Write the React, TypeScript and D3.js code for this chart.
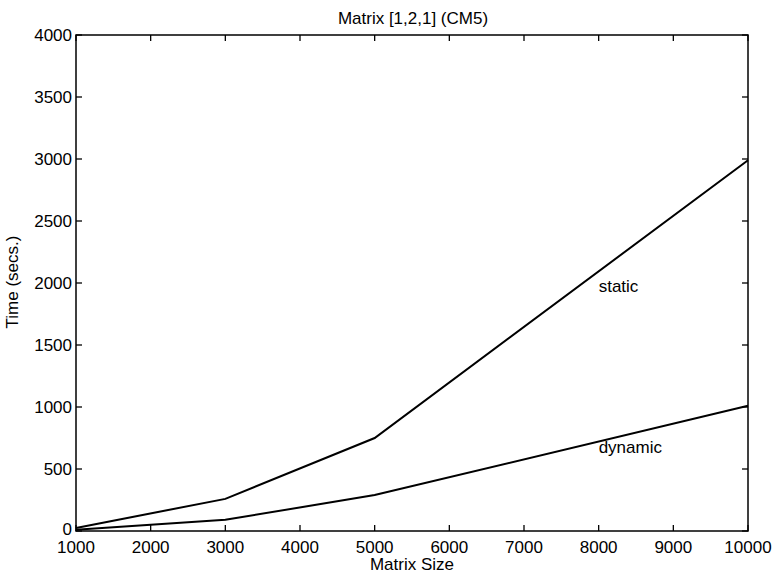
import React, { useEffect, useRef } from "react";
import * as d3 from "d3";

const matrixSizes = [1000, 3000, 5000, 10000];
const staticTimes = [25, 259, 750, 2990];
const dynamicTimes = [10, 90, 290, 1010];
const xTicks = [1000, 2000, 3000, 4000, 5000, 6000, 7000, 8000, 9000, 10000];
const yTicks = [0, 500, 1000, 1500, 2000, 2500, 3000, 3500, 4000];
const seriesLabels = [
  { text: "static", x: 8000, y: 1930 },
  { text: "dynamic", x: 8000, y: 630 },
];

export default function App() {
  const svgRef = useRef<SVGSVGElement>(null);

  useEffect(() => {
    const W = 774;
    const H = 577;
    const margin = { top: 35, right: 26, bottom: 46, left: 76 };
    const width = W - margin.left - margin.right;
    const height = H - margin.top - margin.bottom;
    const font = "Liberation Sans, Arial, sans-serif";

    const root = d3.select(svgRef.current);
    root.selectAll("*").remove();
    root.attr("width", W).attr("height", H);

    root.append("rect").attr("width", W).attr("height", H).attr("fill", "#fff");

    const svg = root
      .append("g")
      .attr("transform", `translate(${margin.left},${margin.top})`);

    const x = d3.scaleLinear().domain([1000, 10000]).range([0, width]);
    const y = d3.scaleLinear().domain([0, 4000]).range([height, 0]);

    const tickLen = 6;

    // box
    svg
      .append("rect")
      .attr("width", width)
      .attr("height", height)
      .attr("fill", "none")
      .attr("stroke", "#000")
      .attr("stroke-width", 1.5);

    // inward ticks, all four sides
    const tickG = svg.append("g").attr("stroke", "#000").attr("stroke-width", 1.3);
    xTicks.forEach((t) => {
      tickG.append("line").attr("x1", x(t)).attr("x2", x(t)).attr("y1", height).attr("y2", height - tickLen);
      tickG.append("line").attr("x1", x(t)).attr("x2", x(t)).attr("y1", 0).attr("y2", tickLen);
    });
    yTicks.forEach((t) => {
      tickG.append("line").attr("x1", 0).attr("x2", tickLen).attr("y1", y(t)).attr("y2", y(t));
      tickG.append("line").attr("x1", width).attr("x2", width - tickLen).attr("y1", y(t)).attr("y2", y(t));
    });

    // tick labels
    svg
      .append("g")
      .selectAll("text")
      .data(xTicks)
      .enter()
      .append("text")
      .attr("x", (d) => x(d))
      .attr("y", height + 22)
      .attr("text-anchor", "middle")
      .attr("font-family", font)
      .attr("font-size", 17)
      .text((d) => d);

    svg
      .append("g")
      .selectAll("text")
      .data(yTicks)
      .enter()
      .append("text")
      .attr("x", -4)
      .attr("y", (d) => y(d) + (d === 0 ? 4 : 6))
      .attr("text-anchor", "end")
      .attr("font-family", font)
      .attr("font-size", 17)
      .text((d) => d);

    // lines
    const line = d3
      .line<number>()
      .x((_, i) => x(matrixSizes[i]))
      .y((d) => y(d));

    [staticTimes, dynamicTimes].forEach((s) => {
      svg
        .append("path")
        .datum(s)
        .attr("d", line)
        .attr("fill", "none")
        .attr("stroke", "#000")
        .attr("stroke-width", 2);
    });

    seriesLabels.forEach((l) => {
      svg
        .append("text")
        .attr("x", x(l.x))
        .attr("y", y(l.y))
        .attr("font-family", font)
        .attr("font-size", 17)
        .text(l.text);
    });

    // title & axis labels
    svg
      .append("text")
      .attr("x", width / 2 + 1)
      .attr("y", -11)
      .attr("text-anchor", "middle")
      .attr("font-family", font)
      .attr("font-size", 17)
      .text("Matrix [1,2,1] (CM5)");

    svg
      .append("text")
      .attr("x", width / 2)
      .attr("y", height + 39)
      .attr("text-anchor", "middle")
      .attr("font-family", font)
      .attr("font-size", 17)
      .text("Matrix Size");

    svg
      .append("text")
      .attr("transform", `translate(${-58},${height / 2 - 1}) rotate(-90)`)
      .attr("text-anchor", "middle")
      .attr("font-family", font)
      .attr("font-size", 17)
      .text("Time (secs.)");
  }, []);

  return (
    <svg
      ref={svgRef}
      style={{ position: "absolute", left: 0, top: 0, display: "block" }}
    ></svg>
  );
}
